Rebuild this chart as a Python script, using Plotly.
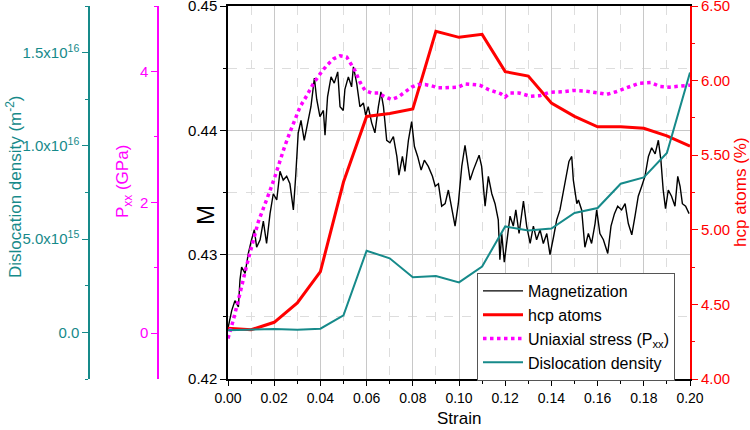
import plotly.graph_objects as go

# ---------------- data ----------------
strain_steps = [0.00, 0.01, 0.02, 0.03, 0.04, 0.05, 0.06, 0.07, 0.08, 0.09, 0.10,
                0.11, 0.12, 0.13, 0.14, 0.15, 0.16, 0.17, 0.18, 0.19, 0.20]
hcp_atoms = [4.34, 4.33, 4.38, 4.51, 4.72, 5.32, 5.76, 5.78, 5.81, 6.33, 6.29,
             6.31, 6.06, 6.03, 5.85, 5.76, 5.69, 5.69, 5.68, 5.63, 5.56]
dislocation = [0.12e15, 0.16e15, 0.18e15, 0.14e15, 0.20e15, 0.91e15, 4.38e15, 3.97e15,
               2.96e15, 3.02e15, 2.68e15, 3.53e15, 5.68e15, 5.46e15, 5.57e15, 6.40e15,
               6.67e15, 7.97e15, 8.31e15, 9.62e15, 13.93e15]

mag_strain = [0.0000, 0.0016, 0.0030, 0.0045, 0.0052, 0.0059, 0.0074, 0.0088, 0.0102, 0.0114,
              0.0124, 0.0139, 0.0153, 0.0167, 0.0182, 0.0196, 0.0211, 0.0225, 0.0239, 0.0254,
              0.0268, 0.0283, 0.0293, 0.0304, 0.0316, 0.0330, 0.0345, 0.0359, 0.0374, 0.0384,
              0.0398, 0.0413, 0.0420, 0.0431, 0.0446, 0.0460, 0.0475, 0.0485, 0.0499, 0.0506,
              0.0521, 0.0535, 0.0543, 0.0557, 0.0571, 0.0586, 0.0596, 0.0607, 0.0622, 0.0636,
              0.0651, 0.0662, 0.0673, 0.0687, 0.0701, 0.0716, 0.0731, 0.0740, 0.0755, 0.0766,
              0.0781, 0.0795, 0.0807, 0.0821, 0.0836, 0.0850, 0.0867, 0.0885, 0.0897, 0.0911,
              0.0925, 0.0940, 0.0954, 0.0968, 0.0983, 0.0997, 0.1012, 0.1026, 0.1040, 0.1048,
              0.1062, 0.1077, 0.1087, 0.1098, 0.1113, 0.1127, 0.1142, 0.1156, 0.1170, 0.1177,
              0.1185, 0.1196, 0.1207, 0.1221, 0.1235, 0.1246, 0.1260, 0.1279, 0.1293, 0.1308,
              0.1322, 0.1336, 0.1351, 0.1365, 0.1380, 0.1394, 0.1409, 0.1423, 0.1437, 0.1452,
              0.1466, 0.1476, 0.1488, 0.1495, 0.1510, 0.1517, 0.1531, 0.1545, 0.1560, 0.1574,
              0.1589, 0.1596, 0.1610, 0.1625, 0.1644, 0.1658, 0.1673, 0.1687, 0.1704, 0.1719,
              0.1733, 0.1748, 0.1762, 0.1776, 0.1791, 0.1805, 0.1820, 0.1834, 0.1849, 0.1863,
              0.1874, 0.1884, 0.1894, 0.1906, 0.1920, 0.1935, 0.1947, 0.1957, 0.1967, 0.1981,
              0.1996]
magnetization = [0.4241, 0.4255, 0.4263, 0.4258, 0.4280, 0.4290, 0.4285, 0.4301, 0.4312, 0.4320,
                 0.4306, 0.4312, 0.4327, 0.4309, 0.4333, 0.4349, 0.4344, 0.4367, 0.4360, 0.4363,
                 0.4357, 0.4336, 0.4363, 0.4398, 0.4408, 0.4392, 0.4406, 0.4419, 0.4442, 0.4425,
                 0.4411, 0.4416, 0.4396, 0.4427, 0.4443, 0.4438, 0.4447, 0.4419, 0.4416, 0.4433,
                 0.4443, 0.4435, 0.4451, 0.4438, 0.4419, 0.4422, 0.4412, 0.4419, 0.4406, 0.4398,
                 0.4419, 0.4431, 0.4419, 0.4392, 0.4390, 0.4395, 0.4379, 0.4364, 0.4379, 0.4367,
                 0.4392, 0.4407, 0.4387, 0.4379, 0.4368, 0.4376, 0.4371, 0.4363, 0.4355, 0.4357,
                 0.4339, 0.4341, 0.4352, 0.4337, 0.4323, 0.4341, 0.4371, 0.4388, 0.4371, 0.4360,
                 0.4368, 0.4376, 0.4380, 0.4371, 0.4339, 0.4363, 0.4349, 0.4341, 0.4328, 0.4296,
                 0.4317, 0.4294, 0.4309, 0.4331, 0.4323, 0.4336, 0.4317, 0.4343, 0.4323, 0.4309,
                 0.4323, 0.4312, 0.4320, 0.4309, 0.4317, 0.4300, 0.4314, 0.4328, 0.4336, 0.4352,
                 0.4365, 0.4375, 0.4379, 0.4360, 0.4341, 0.4344, 0.4336, 0.4306, 0.4317, 0.4309,
                 0.4325, 0.4336, 0.4317, 0.4312, 0.4301, 0.4323, 0.4333, 0.4339, 0.4336, 0.4341,
                 0.4325, 0.4316, 0.4331, 0.4347, 0.4355, 0.4363, 0.4379, 0.4386, 0.4381, 0.4392,
                 0.4376, 0.4352, 0.4337, 0.4352, 0.4347, 0.4339, 0.4363, 0.4355, 0.4341, 0.4339,
                 0.4333]

pxx_strain = [0.0000, 0.0023, 0.0052, 0.0081, 0.0131, 0.0157, 0.0182, 0.0203, 0.0225, 0.0244,
              0.0268, 0.0290, 0.0312, 0.0341, 0.0369, 0.0398, 0.0427, 0.0456, 0.0485, 0.0514,
              0.0529, 0.0550, 0.0571, 0.0593, 0.0622, 0.0651, 0.0680, 0.0708, 0.0737, 0.0766,
              0.0795, 0.0823, 0.0853, 0.0881, 0.0911, 0.0939, 0.0968, 0.0997, 0.1026, 0.1062,
              0.109, 0.113, 0.118, 0.120, 0.122, 0.126, 0.131, 0.135, 0.139, 0.145,
              0.1495, 0.155, 0.160, 0.164, 0.168, 0.172, 0.178, 0.183, 0.187, 0.191,
              0.196, 0.200]
pxx = [-0.08, 0.20, 0.61, 1.04, 1.70, 1.93, 2.18, 2.39, 2.64, 2.84,
       3.07, 3.25, 3.46, 3.63, 3.81, 3.96, 4.09, 4.19, 4.24, 4.22,
       4.14, 4.01, 3.84, 3.71, 3.67, 3.67, 3.61, 3.57, 3.61, 3.68,
       3.76, 3.80, 3.80, 3.78, 3.75, 3.75, 3.76, 3.76, 3.81, 3.80,
       3.79, 3.72, 3.66, 3.61, 3.67, 3.67, 3.62, 3.63, 3.68, 3.69,
       3.71, 3.70, 3.67, 3.65, 3.69, 3.74, 3.82, 3.83, 3.77, 3.76,
       3.77, 3.79]

x_ticks = [0.00, 0.02, 0.04, 0.06, 0.08, 0.10, 0.12, 0.14, 0.16, 0.18, 0.20]
m_ticks = [0.42, 0.43, 0.44, 0.45]
hcp_ticks = [4.00, 4.50, 5.00, 5.50, 6.00, 6.50]
pxx_ticks = [0, 2, 4]
disl_tickvals = [0, 5e15, 1e16, 1.5e16]
disl_ticktext = ["0.0", "5.0x10<sup>15</sup>", "1.0x10<sup>16</sup>", "1.5x10<sup>16</sup>"]
disl_minorvals = [-2.5e15, 2.5e15, 7.5e15, 1.25e16, 1.75e16]

# ---------------- styling / geometry ----------------
FONT = "Liberation Sans, Arial, sans-serif"
RED = "#ff0000"
MAG = "#ff00ff"
TEAL = "#168a8a"

W, H = 750, 430


def px(xp):
    return xp / W


def py(yp):
    return 1 - yp / H


x0, x1 = 228, 690
ytop, ybot = 6, 379
xdom = [px(x0), px(x1)]
ydom = [py(ybot), py(ytop)]

fig = go.Figure()
fig.add_trace(go.Scatter(x=mag_strain, y=magnetization, mode="lines", name="Magnetization",
                         line=dict(color="black", width=1.4), yaxis="y", legendrank=1))
fig.add_trace(go.Scatter(x=strain_steps, y=hcp_atoms, mode="lines", name="hcp atoms",
                         line=dict(color=RED, width=3), yaxis="y2", legendrank=2))
fig.add_trace(go.Scatter(x=pxx_strain, y=pxx, mode="lines", name="Uniaxial stress (P<sub>xx</sub>)",
                         line=dict(color=MAG, width=3.5, dash="dot"), yaxis="y3", legendrank=3))
fig.add_trace(go.Scatter(x=strain_steps, y=dislocation, mode="lines", name="Dislocation density",
                         line=dict(color=TEAL, width=2), yaxis="y4", legendrank=4))

fig.update_layout(
    width=W, height=H,
    margin=dict(l=0, r=0, t=0, b=0),
    paper_bgcolor="white", plot_bgcolor="white",
    font=dict(family=FONT, size=14, color="black"),
    showlegend=True,
    legend=dict(x=px(477), y=py(273), xanchor="left", yanchor="top",
                bgcolor="white", bordercolor="#555555", borderwidth=1,
                font=dict(family=FONT, size=16, color="black"),
                itemwidth=40, tracegroupgap=0),
    xaxis=dict(domain=xdom, range=[0, 0.2], tickvals=x_ticks, tickformat=".2f",
               ticks="outside", ticklen=5, tickwidth=1.2, tickcolor="black",
               showline=True, linecolor="black", linewidth=1.5, mirror=True,
               showgrid=True, gridcolor="#c8c8c8", gridwidth=1, zeroline=False,
               tickfont=dict(family=FONT, size=14), automargin=False,
               ticklabeloverflow="allow",
               minor=dict(dtick=0.01, tick0=0, ticks="outside", ticklen=3, tickcolor="black",
                          showgrid=True, gridcolor="#dddddd", griddash="dash")),
    yaxis=dict(domain=ydom, range=[0.42, 0.45], tickvals=m_ticks, tickformat=".2f",
               ticks="outside", ticklen=6, tickwidth=1.2, tickcolor="black",
               showline=True, linecolor="black", linewidth=1.5,
               showgrid=True, gridcolor="#c8c8c8", zeroline=False,
               tickfont=dict(family=FONT, size=15), automargin=False,
               ticklabeloverflow="allow",
               minor=dict(dtick=0.005, tick0=0.42, ticks="outside", ticklen=3, tickcolor="black",
                          showgrid=True, gridcolor="#dddddd", griddash="dash")),
    yaxis2=dict(overlaying="y", side="right", anchor="x", range=[4.0, 6.5], tickvals=hcp_ticks,
                tickformat=".2f", ticks="outside", ticklen=6, tickwidth=1.2, tickcolor=RED,
                showline=True, linecolor=RED, linewidth=2, showgrid=False, zeroline=False,
                tickfont=dict(family=FONT, size=15, color=RED), automargin=False,
                ticklabeloverflow="allow",
                minor=dict(dtick=0.25, tick0=4, ticks="outside", ticklen=3, tickcolor=RED)),
    yaxis3=dict(overlaying="y", side="left", anchor="free", position=px(158),
                range=[-0.7, 5.0], tickvals=pxx_ticks, ticks="outside", ticklen=6, tickwidth=1.2,
                tickcolor=MAG, showline=True, linecolor=MAG, linewidth=1.5,
                showgrid=False, zeroline=False,
                tickfont=dict(family=FONT, size=15, color=MAG), automargin=False,
                ticklabeloverflow="allow",
                minor=dict(dtick=1, tick0=0, ticks="outside", ticklen=3, tickcolor=MAG)),
    yaxis4=dict(overlaying="y", side="left", anchor="free", position=px(89),
                range=[-2.5e15, 1.75e16], tickmode="array", tickvals=disl_tickvals,
                ticktext=disl_ticktext, ticks="outside", ticklen=6, tickwidth=1.2,
                tickcolor=TEAL, showline=True, linecolor=TEAL, linewidth=1.5,
                showgrid=False, zeroline=False,
                tickfont=dict(family=FONT, size=15, color=TEAL), automargin=False,
                ticklabeloverflow="allow",
                minor=dict(tickmode="array", tickvals=disl_minorvals, ticks="outside",
                           ticklen=3, tickcolor=TEAL)),
)

anns = [
    dict(text="M", x=px(205), y=py(215), textangle=-90, font=dict(size=24, color="black")),
    dict(text="P<sub>xx</sub> (GPa)", x=px(124), y=py(182), textangle=-90,
         font=dict(size=17, color=MAG)),
    dict(text="Dislocation density (m<sup>-2</sup>)", x=px(14), y=py(187), textangle=-90,
         font=dict(size=17, color=TEAL)),
    dict(text="hcp atoms (%)", x=px(740), y=py(192), textangle=-90,
         font=dict(size=17, color=RED)),
    dict(text="Strain", x=px(459), y=py(418), textangle=0,
         font=dict(size=17, color="black")),
]
for a in anns:
    fig.add_annotation(xref="paper", yref="paper", showarrow=False,
                       xanchor="center", yanchor="middle", font_family=FONT, **a)

fig.write_html("out.html", config={"displayModeBar": False},
               post_script="document.body.style.margin='0px';document.body.style.overflow='hidden';")
